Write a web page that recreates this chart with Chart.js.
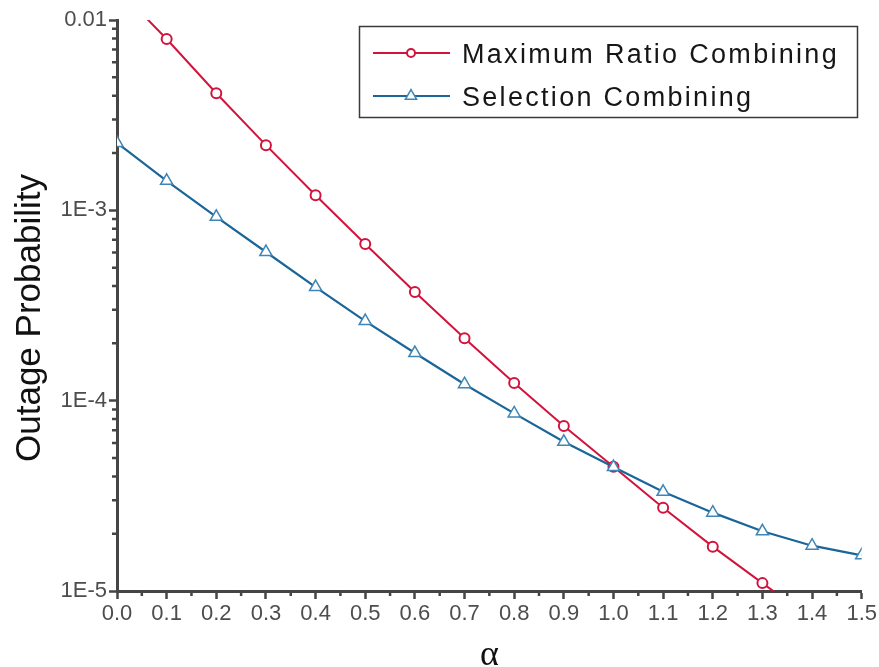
<!DOCTYPE html>
<html>
<head>
<meta charset="utf-8">
<script src="https://cdn.jsdelivr.net/npm/chart.js@4.4.1/dist/chart.umd.min.js"></script>
<style>
  html, body { margin: 0; padding: 0; background: #ffffff; }
  #wrap { width: 879px; height: 667px; position: relative; }
</style>
</head>
<body>
<div id="wrap"><canvas id="outage"></canvas></div>
<script>
// Outage probability versus alpha for two diversity-combining schemes
const alphaValues = [0.0, 0.1, 0.2, 0.3, 0.4, 0.5, 0.6, 0.7, 0.8, 0.9, 1.0, 1.1, 1.2, 1.3, 1.4, 1.5];
const mrcValues = [1.47e-2, 7.95e-3, 4.12e-3, 2.20e-3, 1.20e-3, 6.65e-4, 3.72e-4, 2.13e-4, 1.24e-4, 7.36e-5, 4.50e-5, 2.74e-5, 1.71e-5, 1.10e-5, 7.1e-6, 4.7e-6];
const scValues = [2.26e-3, 1.43e-3, 9.25e-4, 6.04e-4, 3.95e-4, 2.62e-4, 1.78e-4, 1.22e-4, 8.57e-5, 6.08e-5, 4.48e-5, 3.32e-5, 2.58e-5, 2.06e-5, 1.73e-5, 1.54e-5];
const seriesNames = ['Maximum Ratio Combining', 'Selection Combining'];
const xTickValues = [0.0, 0.1, 0.2, 0.3, 0.4, 0.5, 0.6, 0.7, 0.8, 0.9, 1.0, 1.1, 1.2, 1.3, 1.4, 1.5];
const yTickValues = [1e-5, 1e-4, 1e-3, 1e-2];
const yTickLabels = ['1E-5', '1E-4', '1E-3', '0.01'];
const yTitle = 'Outage Probability';
const xTitle = 'α';

const RED = '#d2143c';
const BLUE = '#1a6699';
const BLUE_MARK = '#3f86b8';
const AXIS = '#454545';

// Short minor tick marks between the labelled ticks on both axes
const minorTicks = {
  id: 'minorTicks',
  afterDraw(chart) {
    const ctx = chart.ctx;
    const xs = chart.scales.x, ys = chart.scales.y;
    ctx.save();
    ctx.strokeStyle = AXIS;
    ctx.lineWidth = 2.5;
    ctx.beginPath();
    for (let i = 0; i < xTickValues.length - 1; i++) {
      const mid = (xTickValues[i] + xTickValues[i + 1]) / 2;
      const px = xs.getPixelForValue(mid);
      ctx.moveTo(px, xs.top);
      ctx.lineTo(px, xs.top + 5);
    }
    for (let i = 0; i < yTickValues.length - 1; i++) {
      for (let m = 2; m <= 9; m++) {
        const py = ys.getPixelForValue(yTickValues[i] * m);
        ctx.moveTo(ys.right, py);
        ctx.lineTo(ys.right - 5, py);
      }
    }
    ctx.stroke();
    ctx.restore();
  }
};

// Vertical axis title, rotated, sitting a little below the middle of the axis
const yAxisTitle = {
  id: 'yAxisTitle',
  afterDraw(chart) {
    const ctx = chart.ctx;
    ctx.save();
    ctx.translate(30, 318);
    ctx.rotate(-Math.PI / 2);
    ctx.fillStyle = '#111111';
    ctx.font = '35px "Liberation Sans", Arial, sans-serif';
    ctx.textAlign = 'center';
    ctx.textBaseline = 'middle';
    ctx.fillText(yTitle, 0, 0);
    ctx.restore();
  }
};

// Boxed legend in the upper right corner: line sample with centred marker, then the name
const boxedLegend = {
  id: 'boxedLegend',
  afterDraw(chart) {
    const ctx = chart.ctx;
    const box = { left: 359.5, top: 26.5, width: 498, height: 91 };
    ctx.save();
    ctx.fillStyle = '#ffffff';
    ctx.fillRect(box.left, box.top, box.width, box.height);
    ctx.strokeStyle = '#3a3a3a';
    ctx.lineWidth = 1.5;
    ctx.strokeRect(box.left, box.top, box.width, box.height);

    const order = [1, 0]; // datasets: index 1 = MRC, index 0 = SC
    order.forEach((dsIndex, row) => {
      const ds = chart.data.datasets[dsIndex];
      const cy = 53 + row * 43;
      ctx.strokeStyle = ds.borderColor;
      ctx.lineWidth = ds.borderWidth;
      ctx.beginPath();
      ctx.moveTo(373, cy);
      ctx.lineTo(450, cy);
      ctx.stroke();
      const cx = 411;
      ctx.fillStyle = '#ffffff';
      ctx.strokeStyle = ds.pointBorderColor;
      ctx.lineWidth = ds.pointBorderWidth;
      ctx.beginPath();
      if (ds.pointStyle === 'circle') {
        ctx.arc(cx, cy, 4, 0, Math.PI * 2);
      } else {
        const r = 6.5;
        for (let k = 0; k < 3; k++) {
          const a = k * 2 * Math.PI / 3;
          const px = cx + Math.sin(a) * r, py = cy - Math.cos(a) * r;
          if (k === 0) ctx.moveTo(px, py); else ctx.lineTo(px, py);
        }
        ctx.closePath();
      }
      ctx.fill();
      ctx.stroke();

      ctx.fillStyle = '#161616';
      ctx.font = '27px "Liberation Sans", Arial, sans-serif';
      ctx.letterSpacing = '2.3px';
      ctx.textBaseline = 'alphabetic';
      ctx.textAlign = 'left';
      ctx.fillText(ds.label, 462, cy + 10);
    });
    ctx.restore();
  }
};

const tickFont = { family: '"Liberation Sans", Arial, sans-serif', size: 22 };

new Chart(document.getElementById('outage'), {
  type: 'line',
  data: {
    datasets: [
      {
        label: seriesNames[1],
        data: alphaValues.map((a, i) => ({ x: a, y: scValues[i] })),
        borderColor: BLUE,
        borderWidth: 2.2,
        pointStyle: 'triangle',
        pointRadius: 7,
        pointBorderWidth: 1.5,
        pointBorderColor: BLUE_MARK,
        pointBackgroundColor: '#ffffff',
        tension: 0,
        clip: 0,
        order: 0
      },
      {
        label: seriesNames[0],
        data: alphaValues.map((a, i) => ({ x: a, y: mrcValues[i] })),
        borderColor: RED,
        borderWidth: 2,
        pointStyle: 'circle',
        pointRadius: 5,
        pointBorderWidth: 2,
        pointBorderColor: RED,
        pointBackgroundColor: '#ffffff',
        tension: 0,
        clip: 0,
        order: 1
      }
    ]
  },
  options: {
    responsive: true,
    maintainAspectRatio: false,
    animation: false,
    layout: { padding: { top: 20, right: 17, bottom: 0, left: 0 } },
    plugins: {
      legend: { display: false },
      tooltip: { enabled: false }
    },
    scales: {
      x: {
        type: 'linear',
        min: 0,
        max: 1.5,
        afterBuildTicks: (s) => { s.ticks = xTickValues.map(v => ({ value: v })); },
        afterFit: (s) => { s.height = 76; },
        ticks: {
          autoSkip: false,
          maxRotation: 0,
          font: tickFont,
          color: '#4d4d4d',
          padding: 2,
          callback: (v) => Number(v).toFixed(1)
        },
        grid: {
          display: true,
          drawOnChartArea: false,
          tickLength: 8,
          tickWidth: 2.5,
          tickColor: AXIS
        },
        border: { display: true, color: AXIS, width: 3 },
        title: {
          display: true,
          text: xTitle,
          font: { family: '"Liberation Serif", "DejaVu Serif", serif', size: 36, lineHeight: 0.66 },
          color: '#111111',
          padding: { top: 0, bottom: 0 }
        }
      },
      y: {
        type: 'logarithmic',
        min: 1e-5,
        max: 1e-2,
        afterBuildTicks: (s) => { s.ticks = yTickValues.map(v => ({ value: v })); },
        afterFit: (s) => { s.width = 117; },
        ticks: {
          autoSkip: false,
          font: tickFont,
          color: '#4d4d4d',
          padding: 2,
          callback: (v) => {
            const i = yTickValues.findIndex(t => Math.abs(Math.log10(t) - Math.log10(v)) < 1e-6);
            return i >= 0 ? yTickLabels[i] : '';
          }
        },
        grid: {
          display: true,
          drawOnChartArea: false,
          tickLength: 8,
          tickWidth: 2.5,
          tickColor: AXIS
        },
        border: { display: true, color: AXIS, width: 3 },
        title: { display: false }
      }
    }
  },
  plugins: [minorTicks, yAxisTitle, boxedLegend]
});
</script>
</body>
</html>
